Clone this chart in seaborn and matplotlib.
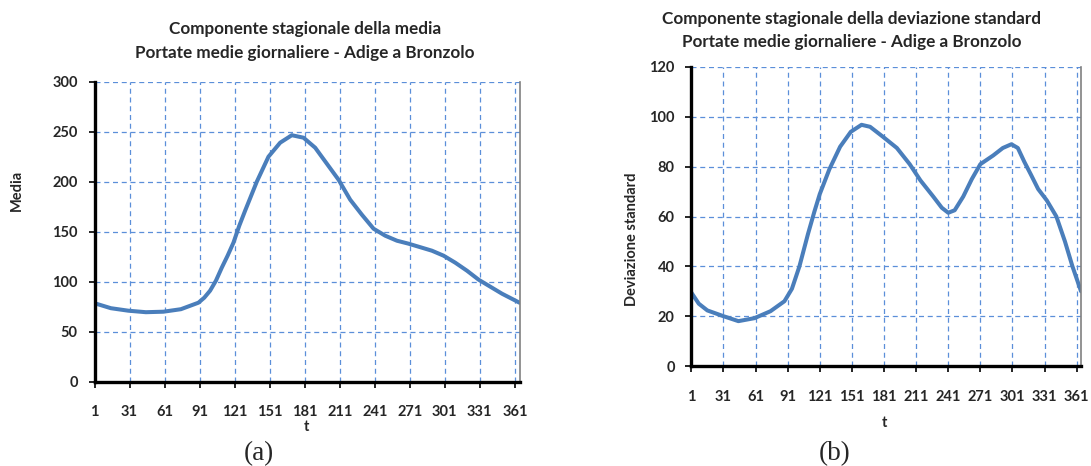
import matplotlib
matplotlib.use("Agg")
import matplotlib.pyplot as plt
import seaborn as sns
import pandas as pd

# Seasonal component of the mean daily discharge (day of year -> value)
mean_days = [1, 15, 30, 45, 60, 75, 90, 95, 100, 105, 110, 115, 120, 125, 130,
             140, 150, 160, 170, 180, 190, 200, 210, 220, 230, 240, 250, 260,
             270, 280, 290, 300, 310, 320, 330, 340, 350, 365]
mean_vals = [78.5, 73.5, 71, 69.5, 70, 72.5, 79, 84, 91, 101, 114, 126, 139, 156, 171,
             200, 225, 239, 246.5, 244, 234, 218, 202, 182, 167, 153, 146, 141,
             138, 134.5, 131, 126, 119, 111, 102, 95, 88, 79]

# Seasonal component of the standard deviation
std_days = [1, 8, 16, 31, 45, 60, 75, 88, 95, 102, 110, 116, 121, 130, 140, 150,
            160, 168, 180, 193, 205, 215, 227, 235, 241, 247, 255, 263, 271, 283,
            292, 300, 306, 312, 318, 325, 333, 342, 350, 357, 365]
std_vals = [29.5, 25, 22.3, 20, 18, 19.2, 22, 26, 31, 40, 53, 62, 69, 79, 88, 94,
            96.8, 96, 92, 87.5, 81, 74.5, 68, 63.5, 61.5, 62.5, 68, 75, 81, 84.5,
            87.5, 89, 87.5, 82, 77, 71, 66.5, 60, 50, 40, 30]

x_ticks = list(range(1, 362, 30))
mean_yticks = list(range(0, 301, 50))
std_yticks = list(range(0, 121, 20))

title_mean = ["Componente stagionale della media",
              "Portate medie giornaliere - Adige a Bronzolo"]
title_std = ["Componente stagionale della deviazione standard",
             "Portate medie giornaliere - Adige a Bronzolo"]

sns.set_style("white")
plt.rcParams["font.family"] = ["Lato", "DejaVu Sans"]
plt.rcParams["font.weight"] = "bold"

W, H = 1091, 466
fig = plt.figure(figsize=(W / 100, H / 100), dpi=100)

LINE = "#4a7ebb"
GRID = "#5b8fd9"
TICK_FS = 10.5


def px_axes(x0, y0, x1, y1):
    return fig.add_axes([x0 / W, 1 - y1 / H, (x1 - x0) / W, (y1 - y0) / H])


def style(ax, yticks):
    ax.set_xlim(1, 365)
    ax.set_ylim(yticks[0], yticks[-1])
    ax.set_xticks(x_ticks)
    ax.set_yticks(yticks)
    ax.set_xticklabels([str(t) for t in x_ticks], fontsize=TICK_FS, fontweight="bold")
    ax.set_yticklabels([str(t) for t in yticks], fontsize=TICK_FS, fontweight="bold")
    ax.grid(True, color=GRID, linestyle=(0, (4, 3)), linewidth=0.9)
    ax.set_axisbelow(True)
    for s in ("left", "bottom"):
        ax.spines[s].set_color("black")
        ax.spines[s].set_linewidth(2.4)
    ax.spines["top"].set_visible(False)
    ax.spines["right"].set_color("#808080")
    ax.spines["right"].set_linewidth(1.2)
    ax.tick_params(axis="y", direction="out", length=4, width=1.2, color="black", pad=8, left=True)
    ax.tick_params(axis="x", direction="out", length=4, width=1.2, color="black", pad=13, bottom=True)
    ax.set_xlabel("")
    ax.set_ylabel("")


ax1 = px_axes(94.5, 81.7, 519.5, 381.7)
df1 = pd.DataFrame({"t": mean_days, "Media": mean_vals})
sns.lineplot(data=df1, x="t", y="Media", ax=ax1, color=LINE, linewidth=2.9)
style(ax1, mean_yticks)

ax2 = px_axes(691.3, 67, 1081, 366)
df2 = pd.DataFrame({"t": std_days, "Deviazione standard": std_vals})
sns.lineplot(data=df2, x="t", y="Deviazione standard", ax=ax2, color=LINE, linewidth=2.9)
style(ax2, std_yticks)


def ftext(x, y, s, **kw):
    fig.text(x / W, 1 - y / H, s, ha="center", va="center", **kw)


TITLE_FS = 12.3
ftext(305, 29, title_mean[0], fontsize=TITLE_FS, fontweight="bold")
ftext(305, 53, title_mean[1], fontsize=TITLE_FS, fontweight="bold")
ftext(852, 19, title_std[0], fontsize=TITLE_FS, fontweight="bold")
ftext(852, 42, title_std[1], fontsize=TITLE_FS, fontweight="bold")

ftext(17, 190, "Media", fontsize=TICK_FS, fontweight="bold", rotation=90)
ftext(632, 239, "Deviazione standard", fontsize=TICK_FS, fontweight="bold", rotation=90)
ftext(306, 427, "t", fontsize=TICK_FS, fontweight="bold")
ftext(884, 423, "t", fontsize=TICK_FS, fontweight="bold")

ftext(259, 454, "(a)", fontsize=19.5, family="Liberation Serif", fontweight="normal")
ftext(835, 454, "(b)", fontsize=19.5, family="Liberation Serif", fontweight="normal")

fig.savefig("out.png", dpi=100, facecolor="white")
